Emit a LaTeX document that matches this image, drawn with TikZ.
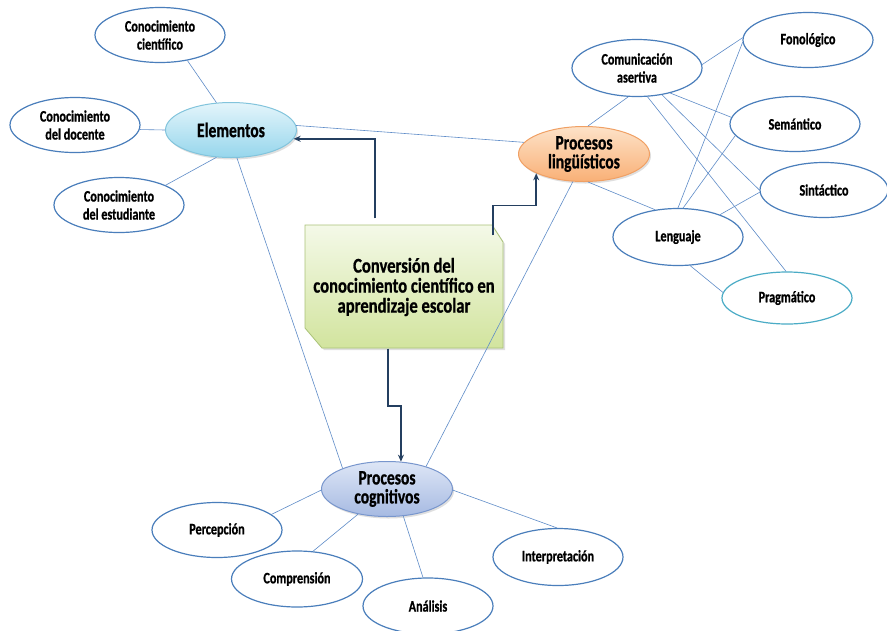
\documentclass[tikz,border=0pt]{standalone}
\usepackage{fontspec}
\newfontfamily\labfont{Carlito}[FakeStretch=0.76, BoldFeatures={FakeBold=0.8}]
\newfontfamily\boxfont{Carlito}[FakeStretch=0.79, BoldFeatures={FakeBold=0.8}]
\usetikzlibrary{shapes.geometric,arrows.meta,shadows,calc}
\definecolor{ellblue}{RGB}{74,126,187}
\definecolor{thinblue}{RGB}{95,140,200}
\definecolor{navy}{RGB}{36,63,96}
\definecolor{pragcol}{RGB}{75,172,198}
\tikzset{
  leaf/.style={ellipse, draw=ellblue, line width=1.2pt, fill=white,
    minimum width=130pt, minimum height=55pt, inner sep=0pt, align=center,
    font=\labfont\bfseries\fontsize{16}{18}\selectfont},
  mainell/.style={ellipse, line width=1pt,
    minimum width=131pt, minimum height=55pt, inner sep=0pt, align=center,
    font=\labfont\bfseries\fontsize{20.5}{19}\selectfont,
    drop shadow={opacity=0.25, shadow xshift=1.5pt, shadow yshift=-2pt}},
  elemstyle/.style={draw={rgb,255:red,130;green,196;blue,220},
    top color={rgb,255:red,228;green,245;blue,251},
    bottom color={rgb,255:red,150;green,214;blue,236}},
  lingstyle/.style={draw={rgb,255:red,240;green,160;blue,100},
    top color={rgb,255:red,253;green,226;blue,200},
    bottom color={rgb,255:red,249;green,176;blue,118}},
  cogstyle/.style={draw={rgb,255:red,120;green,150;blue,205},
    top color={rgb,255:red,222;green,230;blue,246},
    bottom color={rgb,255:red,166;green,186;blue,226}},
  thin/.style={draw=thinblue, line width=0.6pt},
  arr/.style={draw=navy, line width=1.6pt, -{Stealth[length=7pt,width=6pt]}},
  boxnode/.style={rectangle, minimum width=198pt, minimum height=123pt,
    inner sep=0pt, align=center,
    font=\boxfont\bfseries\fontsize{21}{20}\selectfont},
}
\begin{document}
\begin{tikzpicture}[x=1pt,y=-1pt]
\useasboundingbox[fill=white] (0,0) rectangle (887,630);

% central box
\path[draw={rgb,255:red,170;green,195;blue,120}, line width=0.8pt,
  top color={rgb,255:red,244;green,249;blue,232},
  bottom color={rgb,255:red,210;green,228;blue,158},
  drop shadow={opacity=0.25, shadow xshift=2pt, shadow yshift=-2pt}]
  (305,225) -- (492,225) -- (503,242) -- (503,348) -- (322,348) -- (305,328) -- cycle;
\node[boxnode] (bx) at (404,287) {Conversión del\\conocimiento científico en\\aprendizaje escolar};

% nodes
\node[leaf] (cc) at (160,35) {Conocimiento\\científico};
\node[leaf] (cd) at (75,125) {Conocimiento\\del docente};
\node[leaf] (ce) at (119,205) {Conocimiento\\del estudiante};
\node[mainell, elemstyle] (el) at (231,130) {Elementos};
\node[mainell, lingstyle] (pl) at (584,154) {Procesos\\lingüísticos};
\node[leaf, minimum height=57pt] (ca) at (637,68) {Comunicación\\asertiva};
\node[leaf] (fo) at (808,40) {Fonológico};
\node[leaf] (se) at (795,124) {Semántico};
\node[leaf, minimum width=128pt] (si) at (824,190) {Sintáctico};
\node[leaf, minimum height=57pt] (le) at (678,237) {Lenguaje};
\node[leaf, draw=pragcol, minimum height=52pt] (pr) at (787,298) {Pragmático};
\node[mainell, cogstyle] (pc) at (387,489) {Procesos\\cognitivos};
\node[leaf] (pe) at (217,530) {Percepción};
\node[leaf, minimum width=131pt, minimum height=56pt] (co) at (297,579) {Comprensión};
\node[leaf, minimum height=56pt] (an) at (428,606) {Análisis};
\node[leaf, minimum height=57pt] (in) at (558,557) {Interpretación};

% thin connectors
\draw[thin] (cc.-43) -- (el.118);
\draw[thin] (cd.-4) -- (el.180);
\draw[thin] (ce.23) -- (el.242);
\draw[thin] (el.4) -- (pl.169);
\draw[thin] (el.-78) -- (pc.155);
\draw[thin] (pl.248) -- (pc.30);
\draw[thin] (pl.82) -- (ca.253);
\draw[thin] (pl.-82) -- (le.130);
\draw[thin] (ca.3) -- (fo.178);
\draw[thin] (ca.-37) -- (se.174);
\draw[thin] (ca.-47) -- (si.180);
\draw[thin] (ca.-70) -- (pr.92);
\draw[thin] (le.90) -- (fo.182);
\draw[thin] (le.80) -- (se.191);
\draw[thin] (le.28) -- (si.182);
\draw[thin] (le.-67) -- (pr.175);
\draw[thin] (pc.181) -- (pe.16);
\draw[thin] (pc.221) -- (co.60);
\draw[thin] (pc.-59) -- (an.100);
\draw[thin] (pc.-1) -- (in.92);

% arrows
\draw[arr] ($(bx.north)+(-29,-7)$) |- (el.-8);
\draw[arr] ($(bx.north east)+(-10,10)$) -- ++(0,-30) -| (pl.202);
\draw[arr] ($(bx.south)+(-16,0)$) -- ++(0,57) -| (pc.63);
\end{tikzpicture}
\end{document}
